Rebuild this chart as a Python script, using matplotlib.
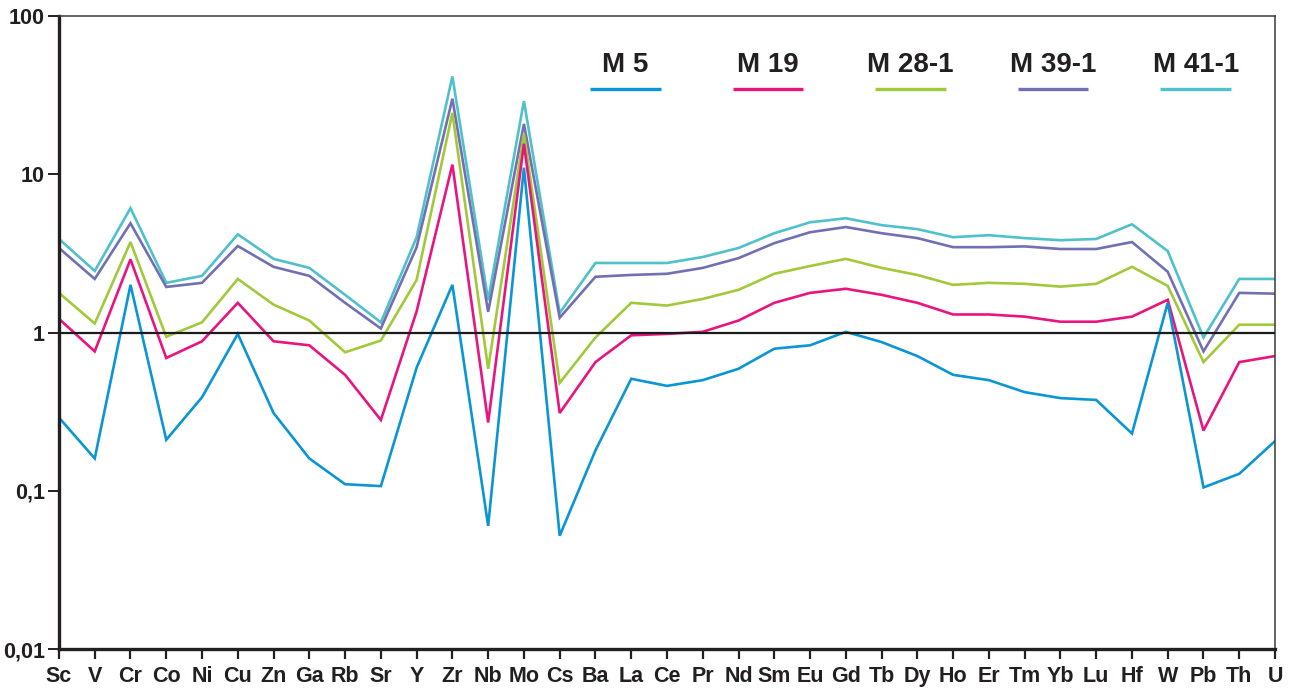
import matplotlib.pyplot as plt
from matplotlib.lines import Line2D
import numpy as np

elements = ["Sc", "V", "Cr", "Co", "Ni", "Cu", "Zn", "Ga", "Rb", "Sr", "Y", "Zr",
            "Nb", "Mo", "Cs", "Ba", "La", "Ce", "Pr", "Nd", "Sm", "Eu", "Gd", "Tb",
            "Dy", "Ho", "Er", "Tm", "Yb", "Lu", "Hf", "W", "Pb", "Th", "U"]

m5 = [0.29, 0.16, 2.0, 0.21, 0.39, 0.98, 0.31, 0.16, 0.11, 0.107, 0.60, 2.0,
      0.06, 11.0, 0.052, 0.18, 0.51, 0.46, 0.50, 0.59, 0.79, 0.83, 1.01, 0.87,
      0.71, 0.54, 0.50, 0.42, 0.385, 0.375, 0.23, 1.54, 0.105, 0.128, 0.206]
m19 = [1.22, 0.76, 2.9, 0.69, 0.88, 1.54, 0.88, 0.83, 0.54, 0.28, 1.36, 11.5,
       0.27, 15.6, 0.31, 0.65, 0.96, 0.98, 1.01, 1.19, 1.54, 1.78, 1.89, 1.73,
       1.54, 1.30, 1.30, 1.26, 1.17, 1.17, 1.26, 1.61, 0.24, 0.65, 0.71]
m28 = [1.78, 1.14, 3.73, 0.94, 1.16, 2.18, 1.50, 1.19, 0.75, 0.89, 2.15, 24.4,
       0.59, 18.0, 0.48, 0.93, 1.54, 1.48, 1.63, 1.86, 2.35, 2.63, 2.92, 2.56,
       2.31, 2.0, 2.06, 2.03, 1.95, 2.03, 2.6, 1.97, 0.65, 1.12, 1.12]
m39 = [3.42, 2.18, 4.9, 1.94, 2.06, 3.52, 2.6, 2.28, 1.54, 1.06, 3.46, 30.0,
       1.35, 20.8, 1.24, 2.25, 2.31, 2.35, 2.56, 2.95, 3.67, 4.3, 4.64, 4.24,
       3.95, 3.46, 3.46, 3.5, 3.37, 3.37, 3.73, 2.42, 0.76, 1.78, 1.76]
m41 = [3.9, 2.45, 6.1, 2.06, 2.28, 4.17, 2.92, 2.56, 1.73, 1.16, 4.0, 41.5,
       1.6, 29.0, 1.33, 2.75, 2.75, 2.75, 3.0, 3.42, 4.24, 4.97, 5.27, 4.77,
       4.5, 4.0, 4.12, 3.95, 3.83, 3.9, 4.83, 3.27, 0.93, 2.18, 2.18]

names = ["M 5", "M 19", "M 28-1", "M 39-1", "M 41-1"]
series = [m5, m19, m28, m39, m41]
colors = ["#0a96d4", "#e8157f", "#a2c93a", "#736fb3", "#4fc1cb"]

font = ["Liberation Sans Narrow", "DejaVu Sans Condensed", "Liberation Sans", "DejaVu Sans"]

fig = plt.figure(figsize=(12.93, 6.92), dpi=100)
ax = fig.add_axes([0.0456, 0.0621, 0.9405, 0.9148])

x = np.arange(len(elements))
# draw in reverse so M 5 ends up on top
for vals, c in list(zip(series, colors))[::-1]:
    ax.plot(x, vals, color=c, lw=1.9, solid_joinstyle="miter")

ax.axhline(1, color="#1a1a1a", lw=1.6, zorder=5)

ax.set_yscale("log")
ax.set_ylim(0.01, 100)
ax.set_xlim(0, len(elements) - 1)
ax.set_yticks([0.01, 0.1, 1, 10, 100])
ax.set_yticklabels(["0,01", "0,1", "1", "10", "100"])
ax.minorticks_off()
ax.set_xticks(x)
ax.set_xticklabels(elements)

for lab in ax.get_xticklabels() + ax.get_yticklabels():
    lab.set_fontfamily(font)
    lab.set_fontweight("bold")
    lab.set_fontsize(15.5)
    lab.set_color("#231f20")

ax.tick_params(axis="x", direction="out", length=7, width=1.6, pad=5, color="#231f20")
ax.tick_params(axis="y", direction="out", length=8, width=1.4, pad=2, color="#231f20")

for s in ["left", "bottom"]:
    ax.spines[s].set_linewidth(2.4)
    ax.spines[s].set_color("#231f20")
for s in ["top", "right"]:
    ax.spines[s].set_linewidth(1.1)
    ax.spines[s].set_color("#3a3a3a")

# legend: label above a short coloured segment
for i, (name, c) in enumerate(zip(names, colors)):
    cx = 0.466 + i * 0.1172
    ax.text(cx, 0.922, name, transform=ax.transAxes, ha="center", va="center",
            fontsize=20, fontweight="bold", family=font, color="#231f20")
    ax.add_line(Line2D([cx - 0.029, cx + 0.029], [0.885, 0.885], transform=ax.transAxes,
                       color=c, lw=2.4, solid_capstyle="butt"))

fig.savefig("out.png", dpi=100)
